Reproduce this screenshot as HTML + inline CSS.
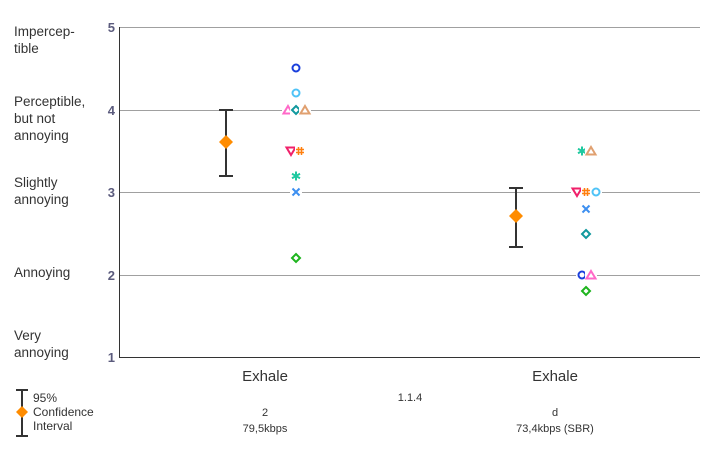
<!DOCTYPE html>
<html><head><style>
body{margin:0;background:#fff;width:720px;height:450px;overflow:hidden;font-family:"Liberation Sans",sans-serif}
</style></head><body>
<svg width="720" height="450" xmlns="http://www.w3.org/2000/svg" font-family="Liberation Sans, sans-serif">
<g stroke="#a0a0a0" stroke-width="1">
<line x1="120" y1="27.5" x2="700" y2="27.5"/>
<line x1="120" y1="110.5" x2="700" y2="110.5"/>
<line x1="120" y1="192.5" x2="700" y2="192.5"/>
<line x1="120" y1="275.5" x2="700" y2="275.5"/>
</g>
<line x1="119.5" y1="27" x2="119.5" y2="358" stroke="#333"/>
<line x1="119" y1="357.5" x2="700" y2="357.5" stroke="#333"/>
<g fill="#5b5b7d" font-weight="bold" font-size="13" text-anchor="end">
<text x="115" y="32">5</text><text x="115" y="115">4</text><text x="115" y="197">3</text><text x="115" y="280">2</text><text x="115" y="362">1</text>
</g>
<g fill="#333" font-size="13.5">
<text x="14" y="36">Impercep-</text><text x="14" y="53">tible</text>
<text x="14" y="106">Perceptible,</text><text x="14" y="123">but not</text><text x="14" y="140">annoying</text>
<text x="14" y="187">Slightly</text><text x="14" y="204">annoying</text>
<text x="14" y="277">Annoying</text>
<text x="14" y="340">Very</text><text x="14" y="357">annoying</text>
</g>
<g fill="#333" font-size="15" text-anchor="middle">
<text x="265" y="381">Exhale</text><text x="555" y="381">Exhale</text>
</g>
<g fill="#333" font-size="11" text-anchor="middle">
<text x="410" y="401">1.1.4</text>
<text x="265" y="416">2</text><text x="265" y="432">79,5kbps</text>
<text x="555" y="416">d</text><text x="555" y="432">73,4kbps (SBR)</text>
</g>
<g stroke="#333" stroke-width="2">
<line x1="22" y1="390" x2="22" y2="436"/><line x1="16" y1="390" x2="28" y2="390"/><line x1="16" y1="436" x2="28" y2="436"/>
</g>
<path d="M22 406 l6 6 l-6 6 l-6 -6z" fill="#ff8c00"/>
<g fill="#333" font-size="12"><text x="33" y="402">95%</text><text x="33" y="416">Confidence</text><text x="33" y="430">Interval</text></g>
<g stroke="#333" stroke-width="2">
<line x1="226" y1="110" x2="226" y2="176"/><line x1="219" y1="110" x2="233" y2="110"/><line x1="219" y1="176" x2="233" y2="176"/>
<line x1="516" y1="188" x2="516" y2="247"/><line x1="509" y1="188" x2="523" y2="188"/><line x1="509" y1="247" x2="523" y2="247"/>
</g>
<path d="M226 135 l7 7 l-7 7 l-7 -7z" fill="#ff8c00"/>
<path d="M516 209 l7 7 l-7 7 l-7 -7z" fill="#ff8c00"/>
<defs>
<g id="o"><rect x="-6" y="-6" width="12" height="12" fill="#fff" stroke="none"/><circle r="3.5" fill="none" stroke-width="2"/></g>
<g id="t"><rect x="-6" y="-6" width="12" height="12" fill="#fff" stroke="none"/><path d="M0 -4 L4.5 3.5 L-4.5 3.5Z" fill="none" stroke-width="2"/></g>
<g id="v"><rect x="-6" y="-6" width="12" height="12" fill="#fff" stroke="none"/><path d="M0 4 L4.5 -3.5 L-4.5 -3.5Z" fill="none" stroke-width="2"/></g>
<g id="d"><rect x="-6" y="-6" width="12" height="12" fill="#fff" stroke="none"/><path d="M0 -4 L4 0 L0 4 L-4 0Z" fill="none" stroke-width="2"/></g>
<g id="x"><rect x="-6" y="-6" width="12" height="12" fill="#fff" stroke="none"/><path d="M-3.5 -3.5 L3.5 3.5 M3.5 -3.5 L-3.5 3.5" stroke-width="2"/></g>
<g id="h"><rect x="-5" y="-6" width="10" height="12" fill="#fff" stroke="none"/><path d="M-1.5 -4 V4 M1.5 -4 V4 M-4 -1.5 H4 M-4 1.5 H4" stroke-width="1.5"/></g>
<g id="s"><rect x="-6" y="-6" width="12" height="12" fill="#fff" stroke="none"/><path d="M0 -4.5 V4.5 M-4 -2.2 L4 2.2 M4 -2.2 L-4 2.2" stroke-width="2"/></g>
</defs>
<use href="#o" x="296" y="68" stroke="#1a3fdc"/>
<use href="#o" x="296" y="93" stroke="#4fc3f7"/>
<use href="#t" x="288" y="110" stroke="#ff69c8"/>
<use href="#d" x="296" y="110" stroke="#11999e"/>
<use href="#t" x="305" y="110" stroke="#e0a070"/>
<use href="#v" x="291" y="151" stroke="#f0206a"/>
<use href="#h" x="300" y="151" stroke="#ff7f0e"/>
<use href="#s" x="296" y="176" stroke="#1fc9a0"/>
<use href="#x" x="296" y="192" stroke="#3d8ff0"/>
<use href="#d" x="296" y="258" stroke="#1eb41e"/>
<use href="#s" x="582" y="151" stroke="#1fc9a0"/>
<use href="#t" x="591" y="151" stroke="#e0a070"/>
<use href="#v" x="577" y="192" stroke="#f0206a"/>
<use href="#h" x="586" y="192" stroke="#ff7f0e"/>
<use href="#o" x="596" y="192" stroke="#4fc3f7"/>
<use href="#x" x="586" y="209" stroke="#3d8ff0"/>
<use href="#d" x="586" y="234" stroke="#11999e"/>
<use href="#o" x="582" y="275" stroke="#1a3fdc"/>
<use href="#t" x="591" y="275" stroke="#ff69c8"/>
<use href="#d" x="586" y="291" stroke="#1eb41e"/>
</svg>
</body></html>
